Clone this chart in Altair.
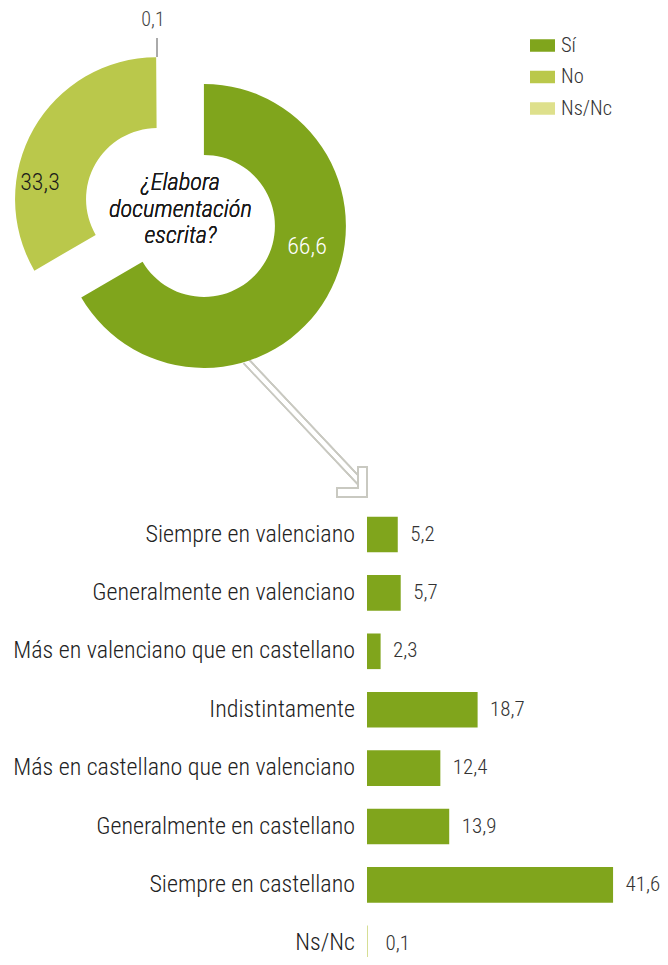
import altair as alt
import pandas as pd

# ---------------- data ----------------
pie_cats = ["Sí", "No", "Ns/Nc"]
pie_vals = [66.6, 33.3, 0.1]
pie_colors = ["#80A51C", "#BAC84B", "#DEE08C"]

bar_cats = [
    "Siempre en valenciano",
    "Generalmente en valenciano",
    "Más en valenciano que en castellano",
    "Indistintamente",
    "Más en castellano que en valenciano",
    "Generalmente en castellano",
    "Siempre en castellano",
    "Ns/Nc",
]
bar_vals = [5.2, 5.7, 2.3, 18.7, 12.4, 13.9, 41.6, 0.1]

question = ["¿Elabora", "documentación", "escrita?"]

# ---------------- styling ----------------
FONT = "Roboto Condensed, Roboto, sans-serif"
W = 300
GREEN = "#80A51C"
ARROW = "#C9C9C1"
CX, CY, EXPLODE = 172.5, 204.5, 27
R_OUT, R_IN = 142, 71

pie_df = pd.DataFrame({"cat": pie_cats, "value": pie_vals, "idx": list(range(len(pie_cats)))})
bar_df = pd.DataFrame({"cat": bar_cats, "value": bar_vals})

fmt = "replace(format(datum.value, '.1f'), '.', ',')"

base_pie = (
    alt.Chart(pie_df)
    .transform_joinaggregate(total="sum(value)")
    .transform_window(cum="sum(value)", sort=[alt.SortField("idx")])
    .transform_calculate(
        t1="datum.cum / datum.total * 2 * PI",
        t0="(datum.cum - datum.value) / datum.total * 2 * PI",
    )
    .transform_calculate(mid="(datum.t0 + datum.t1) / 2")
    .transform_calculate(
        cx=f"{CX} + {EXPLODE} * sin(datum.mid)",
        cy=f"{CY} - {EXPLODE} * cos(datum.mid)",
        label=fmt,
    )
)

arcs = base_pie.transform_filter("datum.value >= 1").mark_arc(
    outerRadius=R_OUT, innerRadius=R_IN
).encode(
    x=alt.X("cx:Q", scale=None, axis=None),
    y=alt.Y("cy:Q", scale=None, axis=None),
    theta=alt.Theta("t0:Q", scale=None),
    theta2="t1:Q",
    color=alt.Color(
        "cat:N",
        scale=alt.Scale(domain=pie_cats, range=pie_colors),
        legend=alt.Legend(
            title=None,
            orient="none",
            legendX=522,
            legendY=25,
            symbolType="M-1,-0.5L1,-0.5L1,0.5L-1,0.5Z",
            symbolSize=625,
            symbolStrokeWidth=0,
            rowPadding=8.5,
            labelOffset=6,
            labelFont=FONT,
            labelFontSize=20.5,
            labelFontWeight=W,
            labelColor="#333333",
        ),
    ),
)

lbl_no = base_pie.transform_filter("datum.cat == 'No'").mark_text(
    font=FONT, fontSize=24, fontWeight=W, color="#1a1a1a", align="center", baseline="middle"
).encode(x=alt.value(32), y=alt.value(175), text="label:N")

lbl_si = base_pie.transform_filter("datum.cat == 'Sí'").mark_text(
    font=FONT, fontSize=24, fontWeight=W, color="#ffffff", align="center", baseline="middle"
).encode(x=alt.value(299), y=alt.value(239), text="label:N")

lbl_ns = base_pie.transform_filter("datum.cat == 'Ns/Nc'").mark_text(
    font=FONT, fontSize=20, fontWeight=W, color="#444444", align="center", baseline="middle"
).encode(x=alt.value(145), y=alt.value(12), text="label:N")

leader = alt.Chart(pie_df).mark_rule(color="#AAAAAA", strokeWidth=2).encode(
    x=alt.value(149), y=alt.value(30), y2=alt.value(49)
)

center_text = alt.Chart(pie_df).mark_text(
    font=FONT, fontSize=24.5, fontStyle="italic", fontWeight=W, color="#1a1a1a",
    align="center", baseline="middle", lineHeight=26.5,
).encode(x=alt.value(CX), y=alt.value(175), text=alt.value(question))

# arrow
shaft_outer = alt.Chart(pie_df).mark_rule(color=ARROW, strokeWidth=8, strokeCap="butt").encode(
    x=alt.value(238), y=alt.value(353), x2=alt.value(352), y2=alt.value(474)
)
shaft_inner = alt.Chart(pie_df).mark_rule(color="#ffffff", strokeWidth=4, strokeCap="butt").encode(
    x=alt.value(236), y=alt.value(351), x2=alt.value(352), y2=alt.value(474)
)
head = alt.Chart(pie_df).mark_point(
    shape="M1,-1L1,1L-1,1L-1,0.4L0.4,0.4L0.4,-1Z",
    size=900, filled=False, fill="#ffffff", fillOpacity=1,
    stroke=ARROW, strokeWidth=2, opacity=1,
).encode(x=alt.value(344), y=alt.value(474))

# bars
xscale = alt.Scale(domain=[0, 50], range=[359, 359 + 5.915 * 50], nice=False)
yscale = alt.Scale(domain=bar_cats, range=[497.3, 964.5], paddingInner=0.39, paddingOuter=0.195)

bar_base = alt.Chart(bar_df).transform_calculate(label=fmt, zero="0")

bars = bar_base.mark_bar().encode(
    x=alt.X("value:Q", scale=xscale, axis=None),
    y=alt.Y("cat:N", scale=yscale, axis=None, sort=bar_cats),
    color=alt.condition("datum.cat == 'Ns/Nc'", alt.value("#BAC84B"), alt.value(GREEN)),
)

val_text = bar_base.transform_filter("datum.cat != 'Ns/Nc'").mark_text(
    font=FONT, fontSize=21, fontWeight=W, color="#333333", align="left", baseline="middle", dx=12.5
).encode(
    x=alt.X("value:Q", scale=xscale, axis=None),
    y=alt.Y("cat:N", scale=yscale, axis=None, sort=bar_cats),
    text="label:N",
)

val_text_ns = bar_base.transform_filter("datum.cat == 'Ns/Nc'").mark_text(
    font=FONT, fontSize=21, fontWeight=W, color="#333333", align="left", baseline="middle",
    dx=18, dy=1,
).encode(
    x=alt.X("value:Q", scale=xscale, axis=None),
    y=alt.Y("cat:N", scale=yscale, axis=None, sort=bar_cats),
    text="label:N",
)

cat_text = bar_base.mark_text(
    font=FONT, fontSize=24, fontWeight=W, color="#222222", align="right", baseline="middle", dx=-12
).encode(
    x=alt.X("zero:Q", scale=xscale, axis=None),
    y=alt.Y("cat:N", scale=yscale, axis=None, sort=bar_cats),
    text="cat:N",
)

chart = alt.layer(
    shaft_outer, shaft_inner, head,
    arcs, lbl_no, lbl_si, lbl_ns, leader, center_text,
    bars, val_text, val_text_ns, cat_text,
).resolve_scale(
    x="independent", y="independent", color="independent"
).properties(
    width=652, height=949,
    autosize=alt.AutoSizeParams(type="none"),
    padding=0,
    background="#ffffff",
).configure_view(stroke=None)

chart.save("out.html", embed_options={"renderer": "svg", "actions": False})
